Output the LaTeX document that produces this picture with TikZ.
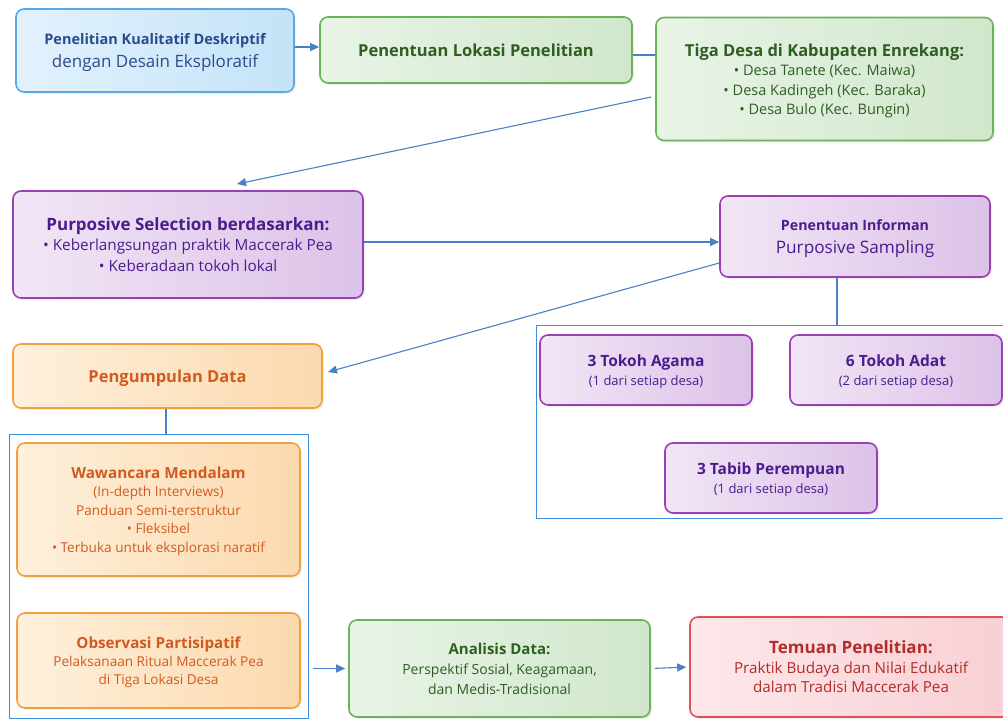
\documentclass[tikz,border=0pt]{standalone}
\usepackage{fontspec}
\setmainfont{Open Sans}
\usetikzlibrary{arrows.meta,shadows}
\definecolor{connblue}{HTML}{4A80C4}
\definecolor{panelblue}{HTML}{3D8FDB}
\definecolor{bluedraw}{HTML}{5AA9E6}
\definecolor{bluetext}{HTML}{2B4C8C}
\definecolor{bluefillA}{HTML}{E3F2FD}
\definecolor{bluefillB}{HTML}{C4E3F8}
\definecolor{greendraw}{HTML}{6BB35A}
\definecolor{greentext}{HTML}{2F5E23}
\definecolor{greenfillA}{HTML}{E9F4E7}
\definecolor{greenfillB}{HTML}{D0E7CB}
\definecolor{purpdraw}{HTML}{9B3FB5}
\definecolor{purptext}{HTML}{4B1C8E}
\definecolor{purpfillA}{HTML}{F1E6F5}
\definecolor{purpfillB}{HTML}{DCC2E8}
\definecolor{orangedraw}{HTML}{F2A03D}
\definecolor{orangetext}{HTML}{D35A1F}
\definecolor{orangefillA}{HTML}{FEF0DC}
\definecolor{orangefillB}{HTML}{FBD9AE}
\definecolor{reddraw}{HTML}{E0524F}
\definecolor{redtext}{HTML}{B32D2A}
\definecolor{redfillA}{HTML}{FDE8EB}
\definecolor{redfillB}{HTML}{F8CFD4}
\newcommand\fsz[2]{\fontsize{#1}{#2}\selectfont}

\begin{document}
\begin{tikzpicture}[x=1pt, y=-1pt,
  box/.style={draw, rounded corners=8pt, line width=1.6pt, align=center,
    inner sep=0pt, text depth=-7pt,
    drop shadow={opacity=0.12, shadow xshift=2pt, shadow yshift=-2pt}},
  bluebox/.style={box, draw=bluedraw, left color=bluefillA, right color=bluefillB, text=bluetext},
  greenbox/.style={box, draw=greendraw, left color=greenfillA, right color=greenfillB, text=greentext},
  purpbox/.style={box, draw=purpdraw, left color=purpfillA, right color=purpfillB, text=purptext},
  orangebox/.style={box, draw=orangedraw, left color=orangefillA, right color=orangefillB, text=orangetext},
  redbox/.style={box, draw=reddraw, left color=redfillA, right color=redfillB, text=redtext},
  panel/.style={draw=panelblue, line width=1pt, inner sep=0pt},
  conn/.style={draw=connblue, line width=1.1pt, -{Triangle[length=9pt,width=8pt]}},
  link/.style={draw=connblue, line width=1.1pt}]
\useasboundingbox (0,0) rectangle (1003,719);
\clip (0,0) rectangle (1003,719);

\node[bluebox, minimum width=278pt, minimum height=83pt, font=\fsz{14}{23}] (desain) at (155,50.5)
  {{\fsz{14.5}{17}\bfseries Penelitian Kualitatif Deskriptif}\\{\fsz{17}{20}dengan Desain Eksploratif}};
\node[greenbox, minimum width=312pt, minimum height=66pt, font=\fsz{16.5}{19}\bfseries] (lokasi) at (476,50)
  {Penentuan Lokasi Penelitian};
\node[greenbox, minimum width=337pt, minimum height=123pt, font=\fsz{14.5}{19.5}] (tiga) at (824.5,79)
  {{\fsz{16.5}{19}\bfseries Tiga Desa di Kabupaten Enrekang:}\\
   • Desa Tanete (Kec. Maiwa)\\ • Desa Kadingeh (Kec. Baraka)\\ • Desa Bulo (Kec. Bungin)};

\node[purpbox, minimum width=350pt, minimum height=107pt, font=\fsz{15.3}{20.5}] (seleksi) at (188,244.5)
  {{\fsz{17}{20}\bfseries Purposive Selection berdasarkan:}\\
   • Keberlangsungan praktik Maccerak Pea\\ • Keberadaan tokoh lokal};
\node[purpbox, minimum width=270pt, minimum height=81pt, font=\fsz{14}{23}] (informan) at (855,236.5)
  {{\fsz{14.2}{17}\bfseries Penentuan Informan}\\{\fsz{17.2}{20}Purposive Sampling}};

\node[panel, minimum width=474pt, minimum height=193pt] (panelkanan) at (773,421.5) {};
\node[purpbox, minimum width=212pt, minimum height=70pt, font=\fsz{13}{19}] (agama) at (646,370)
  {{\fsz{15.5}{18}\bfseries 3 Tokoh Agama}\\(1 dari setiap desa)};
\node[purpbox, minimum width=212pt, minimum height=70pt, font=\fsz{13}{19}] (adat) at (896,370)
  {{\fsz{15.5}{18}\bfseries 6 Tokoh Adat}\\(2 dari setiap desa)};
\node[purpbox, minimum width=212pt, minimum height=70pt, font=\fsz{13}{19}] (tabib) at (771,478)
  {{\fsz{15.5}{18}\bfseries 3 Tabib Perempuan}\\(1 dari setiap desa)};

\node[orangebox, minimum width=309pt, minimum height=64pt, font=\fsz{16.5}{19}\bfseries] (kumpul) at (167.5,376)
  {Pengumpulan Data};
\node[panel, minimum width=299pt, minimum height=284pt] (panelkiri) at (158.5,576) {};
\node[orangebox, minimum width=283pt, minimum height=133pt, font=\fsz{13.6}{18.5}] (wawancara) at (158.5,509.5)
  {{\fsz{15.3}{18}\bfseries Wawancara Mendalam}\\(In-depth Interviews)\\Panduan Semi-terstruktur\\
   • Fleksibel\\• Terbuka untuk eksplorasi naratif};
\node[orangebox, minimum width=283pt, minimum height=95pt, font=\fsz{13.6}{18}] (observasi) at (158.5,660.5)
  {{\fsz{15.2}{18}\bfseries Observasi Partisipatif}\\Pelaksanaan Ritual Maccerak Pea\\di Tiga Lokasi Desa};

\node[greenbox, minimum width=301pt, minimum height=97pt, font=\fsz{14}{20}] (analisis) at (499.5,668.5)
  {{\fsz{15}{18}\bfseries Analisis Data:}\\Perspektif Sosial, Keagamaan,\\dan Medis-Tradisional};
\node[redbox, minimum width=322pt, minimum height=100pt, font=\fsz{15.2}{19.5}] (temuan) at (851,667)
  {{\fsz{17}{20}\bfseries Temuan Penelitian:}\\Praktik Budaya dan Nilai Edukatif\\dalam Tradisi Maccerak Pea};

\coordinate (seleksiatas) at (237,184);
\coordinate (kumpulkanan) at (328,372);

\draw[conn] (desain.east |- 0,47) -- (lokasi.west |- 0,47);
\draw[link] (lokasi.east |- 0,55) -- (tiga.west |- 0,55);
\draw[conn] ([xshift=-4pt]tiga.west |- 0,97) -- (seleksiatas);
\draw[conn] (seleksi.east |- 0,242) -- (informan.west |- 0,242);
\draw[conn] (informan.west |- 0,263) -- (kumpulkanan);
\draw[link] (informan.south -| 837,0) -- (panelkanan.north -| 837,0);
\draw[link] (kumpul.south -| 166,0) -- (panelkiri.north -| 166,0);
\draw[conn, shorten <=4pt, shorten >=3pt] (panelkiri.east |- analisis.west) -- (analisis.west);
\draw[conn, shorten <=4pt, shorten >=3pt] (analisis.east) -- (temuan.west);
\end{tikzpicture}
\end{document}
